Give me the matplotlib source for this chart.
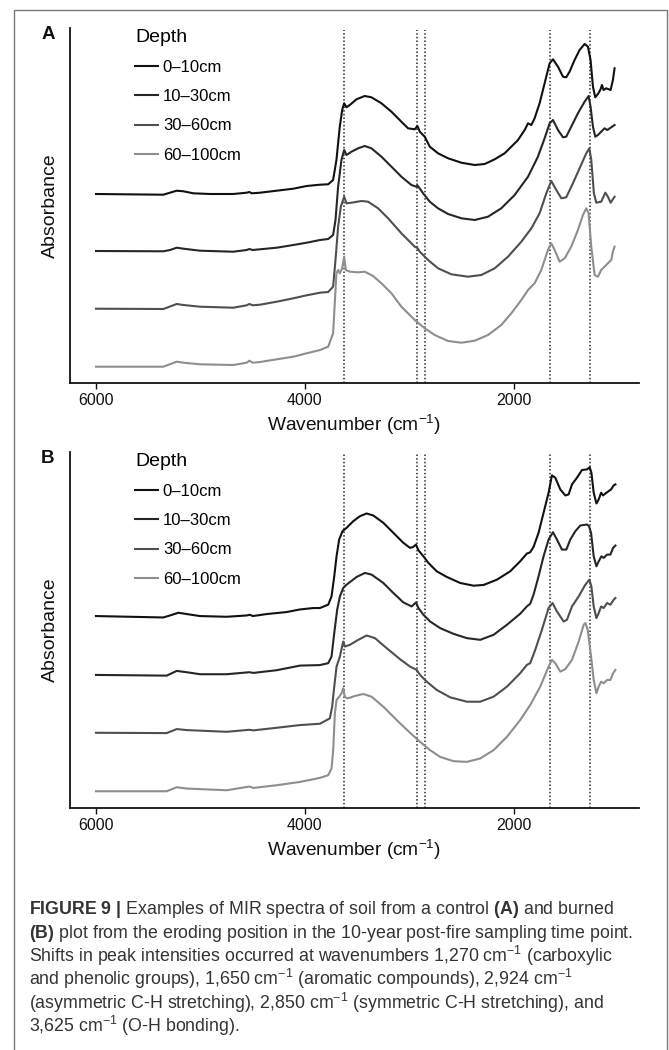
import matplotlib
matplotlib.use("Agg")
import matplotlib.pyplot as plt
from matplotlib.lines import Line2D
from matplotlib.patches import Rectangle

plt.rcParams['font.family'] = ['Liberation Sans', 'DejaVu Sans']
plt.rcParams['mathtext.fontset'] = 'custom'
plt.rcParams['mathtext.rm'] = 'Liberation Sans'
plt.rcParams['mathtext.bf'] = 'Liberation Sans:bold'
plt.rcParams['mathtext.it'] = 'Liberation Sans:italic'

# ---------------- data ----------------
depths = ['0\u201310cm', '10\u201330cm', '30\u201360cm', '60\u2013100cm']
peak_lines = [3625, 2924, 2850, 1650, 1270]
x_ticks = [6000, 4000, 2000]
x_ticklabels = ['6000', '4000', '2000']

# Panel A (control)
A_0_10_wn = [6000, 5355, 5291, 5227, 5163, 5068, 4908, 4685, 4557, 4531, 4509, 4429, 4269, 4110, 3982, 3854, 3776, 3729, 3697, 3665,
             3642, 3623, 3601, 3569, 3505, 3426, 3362, 3266, 3170, 3075, 3011, 2947, 2921, 2899, 2851, 2803, 2724, 2628, 2500, 2373,
             2277, 2181, 2086, 2022, 1958, 1894, 1862, 1830, 1799, 1751, 1703, 1655, 1623, 1575, 1527, 1496, 1464, 1416, 1368, 1320,
             1288, 1263, 1240, 1218, 1192, 1167, 1154, 1138, 1113, 1071, 1049, 1033]
A_0_10_abs = [-0.010, -0.017, 0.003, 0.023, 0.017, -0.003, -0.010, -0.010, 0.003, 0.010, -0.003, 0.003, 0.023, 0.043, 0.070, 0.083, 0.087, 0.130, 0.330, 0.663,
              0.830, 0.897, 0.857, 0.880, 0.937, 0.970, 0.957, 0.897, 0.813, 0.713, 0.647, 0.637, 0.670, 0.613, 0.563, 0.463, 0.397, 0.347, 0.303, 0.280,
              0.290, 0.337, 0.397, 0.463, 0.530, 0.630, 0.697, 0.680, 0.747, 0.897, 1.097, 1.297, 1.337, 1.263, 1.163, 1.157, 1.213, 1.330, 1.430, 1.490,
              1.463, 1.330, 1.063, 0.957, 0.990, 1.037, 1.080, 1.030, 1.047, 1.030, 1.130, 1.247]

A_10_30_wn = [6000, 5355, 5291, 5227, 5163, 5004, 4685, 4557, 4531, 4499, 4429, 4269, 4110, 3982, 3854, 3776, 3729, 3706, 3681, 3649,
              3623, 3601, 3553, 3489, 3426, 3362, 3266, 3170, 3075, 2979, 2931, 2921, 2899, 2867, 2803, 2724, 2628, 2500, 2373, 2245,
              2118, 1990, 1862, 1767, 1703, 1655, 1623, 1575, 1527, 1496, 1448, 1384, 1320, 1282, 1263, 1240, 1218, 1192, 1161, 1129,
              1103, 1065, 1033]
A_10_30_abs = [0.000, -0.003, 0.010, 0.033, 0.023, 0.003, -0.007, 0.010, 0.020, 0.010, 0.017, 0.033, 0.060, 0.083, 0.110, 0.120, 0.160, 0.310, 0.643, 0.910,
               1.010, 0.960, 0.993, 1.027, 1.050, 1.027, 0.943, 0.843, 0.743, 0.660, 0.643, 0.655, 0.625, 0.577, 0.493, 0.427, 0.370, 0.327, 0.310, 0.343,
               0.427, 0.560, 0.743, 0.943, 1.127, 1.277, 1.310, 1.210, 1.137, 1.143, 1.243, 1.377, 1.493, 1.550, 1.443, 1.243, 1.143, 1.160, 1.193, 1.227,
               1.210, 1.237, 1.260]

A_30_60_wn = [6000, 5355, 5227, 5163, 5004, 4685, 4557, 4531, 4499, 4429, 4269, 4110, 3982, 3854, 3776, 3729, 3706, 3681, 3655, 3623,
              3601, 3553, 3457, 3394, 3298, 3202, 3075, 2947, 2921, 2899, 2819, 2724, 2596, 2437, 2309, 2181, 2054, 1926, 1830, 1751,
              1687, 1639, 1591, 1543, 1496, 1432, 1368, 1304, 1275, 1256, 1231, 1208, 1161, 1122, 1097, 1071, 1033]
A_30_60_abs = [-0.002, -0.005, 0.045, 0.035, 0.018, 0.008, 0.032, 0.045, 0.032, 0.038, 0.068, 0.102, 0.132, 0.158, 0.165, 0.218, 0.485, 0.818, 1.018, 1.118,
               1.052, 1.058, 1.075, 1.068, 1.002, 0.902, 0.752, 0.618, 0.605, 0.568, 0.485, 0.402, 0.342, 0.318, 0.335, 0.402, 0.518, 0.668, 0.802, 0.952,
               1.152, 1.275, 1.185, 1.102, 1.112, 1.252, 1.402, 1.552, 1.602, 1.485, 1.152, 1.058, 1.068, 1.158, 1.118, 1.058, 1.118]

A_60_100_wn = [6000, 5355, 5227, 5163, 5004, 4685, 4557, 4531, 4499, 4429, 4269, 4110, 3982, 3854, 3776, 3729, 3713, 3697, 3681, 3665,
               3642, 3623, 3607, 3569, 3489, 3426, 3346, 3266, 3170, 3075, 2947, 2851, 2756, 2628, 2500, 2373, 2245, 2118, 2022, 1926,
               1862, 1799, 1735, 1671, 1639, 1607, 1559, 1511, 1448, 1384, 1336, 1304, 1282, 1256, 1224, 1192, 1161, 1129, 1097, 1065,
               1049, 1033]
A_60_100_abs = [-0.002, -0.002, 0.048, 0.038, 0.022, 0.015, 0.038, 0.058, 0.038, 0.045, 0.072, 0.098, 0.132, 0.165, 0.198, 0.332, 0.632, 0.932, 0.965, 0.932,
                0.982, 1.098, 0.965, 0.948, 0.942, 0.948, 0.905, 0.832, 0.732, 0.598, 0.465, 0.382, 0.315, 0.255, 0.238, 0.258, 0.315, 0.415, 0.532, 0.665,
                0.765, 0.832, 0.965, 1.165, 1.232, 1.165, 1.048, 1.082, 1.198, 1.365, 1.515, 1.582, 1.532, 1.198, 0.915, 0.898, 0.965, 0.998, 1.032, 1.065,
                1.148, 1.198]

# Panel B (burned)
B_0_10_wn = [6000, 5355, 5291, 5211, 5131, 5004, 4748, 4557, 4525, 4499, 4365, 4174, 4046, 3918, 3856, 3776, 3744, 3718, 3696, 3671,
             3639, 3600, 3536, 3472, 3408, 3344, 3248, 3152, 3056, 2992, 2960, 2935, 2912, 2864, 2816, 2736, 2640, 2512, 2384, 2288,
             2160, 2033, 1937, 1873, 1841, 1809, 1761, 1713, 1665, 1633, 1601, 1553, 1505, 1473, 1441, 1393, 1345, 1297, 1271, 1255,
             1233, 1207, 1185, 1162, 1143, 1111, 1089, 1067, 1041, 1025]
B_0_10_abs = [0.014, 0.000, 0.020, 0.047, 0.034, 0.014, 0.007, 0.020, 0.027, 0.014, 0.034, 0.054, 0.080, 0.094, 0.094, 0.127, 0.210, 0.410, 0.610, 0.777,
              0.860, 0.894, 0.960, 1.010, 1.037, 1.017, 0.944, 0.844, 0.744, 0.694, 0.704, 0.727, 0.670, 0.610, 0.544, 0.460, 0.404, 0.344, 0.317, 0.324,
              0.377, 0.460, 0.560, 0.637, 0.650, 0.704, 0.844, 1.044, 1.244, 1.417, 1.394, 1.277, 1.217, 1.227, 1.327, 1.394, 1.470, 1.477, 1.497, 1.444,
              1.244, 1.137, 1.177, 1.244, 1.217, 1.244, 1.260, 1.277, 1.317, 1.327]

B_10_30_wn = [6000, 5323, 5227, 5131, 5004, 4748, 4531, 4493, 4269, 4046, 3856, 3776, 3744, 3718, 3690, 3664, 3632, 3600, 3504, 3424,
              3360, 3248, 3152, 3056, 2976, 2935, 2912, 2864, 2800, 2704, 2576, 2448, 2320, 2192, 2064, 1937, 1873, 1841, 1809, 1761,
              1713, 1665, 1623, 1585, 1537, 1495, 1457, 1409, 1361, 1297, 1278, 1258, 1233, 1207, 1185, 1159, 1137, 1105, 1073, 1047,
              1025]
B_10_30_abs = [0.007, 0.000, 0.047, 0.034, 0.014, 0.014, 0.034, 0.027, 0.054, 0.100, 0.105, 0.124, 0.190, 0.424, 0.657, 0.790, 0.874, 0.907, 0.984, 1.024,
               1.007, 0.924, 0.824, 0.730, 0.690, 0.730, 0.674, 0.607, 0.540, 0.474, 0.417, 0.374, 0.357, 0.407, 0.507, 0.617, 0.690, 0.717, 0.807, 0.990,
               1.190, 1.357, 1.430, 1.357, 1.257, 1.257, 1.357, 1.440, 1.497, 1.507, 1.490, 1.424, 1.190, 1.090, 1.140, 1.190, 1.174, 1.207, 1.207, 1.274,
               1.297]

B_30_60_wn = [6000, 5323, 5227, 5131, 4748, 4531, 4493, 4269, 4046, 3856, 3760, 3738, 3718, 3696, 3664, 3632, 3616, 3568, 3488, 3408,
              3328, 3216, 3088, 2992, 2928, 2896, 2832, 2736, 2608, 2448, 2320, 2192, 2064, 1937, 1873, 1841, 1793, 1729, 1665, 1627,
              1585, 1521, 1489, 1441, 1377, 1313, 1274, 1255, 1233, 1207, 1185, 1162, 1137, 1105, 1073, 1041, 1025]
B_30_60_abs = [0.005, 0.002, 0.042, 0.032, 0.015, 0.035, 0.029, 0.055, 0.082, 0.095, 0.149, 0.265, 0.465, 0.665, 0.765, 0.915, 0.865, 0.882, 0.932, 0.975,
               0.949, 0.849, 0.739, 0.665, 0.632, 0.582, 0.515, 0.432, 0.359, 0.315, 0.315, 0.365, 0.465, 0.599, 0.682, 0.699, 0.832, 1.032, 1.249, 1.299,
               1.215, 1.115, 1.132, 1.265, 1.365, 1.482, 1.532, 1.465, 1.265, 1.149, 1.199, 1.265, 1.249, 1.299, 1.282, 1.332, 1.349]

B_60_100_wn = [6000, 5323, 5227, 5131, 4748, 4531, 4493, 4269, 4046, 3856, 3776, 3744, 3728, 3712, 3696, 3671, 3648, 3632, 3616, 3584,
               3520, 3440, 3360, 3248, 3120, 2992, 2896, 2800, 2704, 2576, 2448, 2320, 2192, 2064, 1937, 1841, 1745, 1665, 1633, 1601,
               1553, 1505, 1441, 1377, 1329, 1313, 1290, 1258, 1233, 1207, 1185, 1162, 1137, 1105, 1073, 1047, 1025]
B_60_100_abs = [0.002, 0.002, 0.042, 0.029, 0.012, 0.049, 0.035, 0.062, 0.095, 0.135, 0.162, 0.229, 0.412, 0.779, 0.912, 0.945, 0.979, 1.029, 0.939, 0.929,
                0.952, 0.972, 0.945, 0.845, 0.712, 0.585, 0.495, 0.412, 0.345, 0.302, 0.295, 0.329, 0.412, 0.545, 0.712, 0.862, 1.045, 1.245, 1.312, 1.279,
                1.195, 1.219, 1.312, 1.495, 1.662, 1.679, 1.612, 1.345, 1.112, 0.979, 1.045, 1.095, 1.079, 1.112, 1.112, 1.179, 1.212]

caption_lines = [
    r"$\mathbf{FIGURE\ 9\ |}$ Examples of MIR spectra of soil from a control $\mathbf{(A)}$ and burned",
    r"$\mathbf{(B)}$ plot from the eroding position in the 10-year post-fire sampling time point.",
    r"Shifts in peak intensities occurred at wavenumbers 1,270 cm$^{-1}$ (carboxylic",
    r"and phenolic groups), 1,650 cm$^{-1}$ (aromatic compounds), 2,924 cm$^{-1}$",
    r"(asymmetric C-H stretching), 2,850 cm$^{-1}$ (symmetric C-H stretching), and",
    r"3,625 cm$^{-1}$ (O-H bonding).",
]

# ---------------- style ----------------
W, H = 669, 1050
colors = ['#111111', '#262626', '#4f4f4f', '#8e8e8e']
offsets = [1.90, 1.32, 0.745, 0.165]


def fy(py):
    return 1 - py / H


fig = plt.figure(figsize=(W / 100, H / 100), dpi=100)
fig.patches.append(Rectangle((14 / W, -0.05), (667 - 14) / W, fy(9.5) + 0.05,
                             transform=fig.transFigure, fill=False,
                             edgecolor='#7a7a7a', lw=1.0))

panels = [
    ('A', 28, 383, [(A_0_10_wn, A_0_10_abs), (A_10_30_wn, A_10_30_abs),
                    (A_30_60_wn, A_30_60_abs), (A_60_100_wn, A_60_100_abs)]),
    ('B', 452, 808, [(B_0_10_wn, B_0_10_abs), (B_10_30_wn, B_10_30_abs),
                     (B_30_60_wn, B_30_60_abs), (B_60_100_wn, B_60_100_abs)]),
]

for label, top, bot, series in panels:
    ax = fig.add_axes([70 / W, fy(bot), 569 / W, (bot - top) / H])
    ax.set_xlim(6249, 799)
    ax.set_ylim(0, 3.55)
    for wl in peak_lines:
        ax.axvline(wl, ymin=0, ymax=0.995, color='#3a3a3a', lw=1.2,
                   ls=(0, (0.9, 1.3)), zorder=1)
    for i, (wn, ab) in enumerate(series):
        ax.plot(wn, [a + offsets[i] for a in ab], color=colors[i], lw=1.5,
                solid_joinstyle='round', zorder=3)
    for s in ['top', 'right']:
        ax.spines[s].set_visible(False)
    for s in ['left', 'bottom']:
        ax.spines[s].set_linewidth(1.3)
        ax.spines[s].set_color('#111111')
    ax.set_xticks(x_ticks)
    ax.set_xticklabels(x_ticklabels)
    ax.set_yticks([])
    ax.tick_params(axis='x', length=4.5, width=1.0, pad=2.5, labelsize=11.5,
                   colors='#111111')
    handles = [Line2D([], [], color=c, lw=1.5) for c in colors]
    ax.legend(handles, depths, title='Depth', loc='upper left',
              bbox_to_anchor=(135 / W, fy(top + 0.5)),
              bbox_transform=fig.transFigure, frameon=False, fontsize=12,
              title_fontsize=14, handlelength=1.35, handletextpad=0.32,
              labelspacing=0.86, borderpad=0, borderaxespad=0,
              alignment='left')
    fig.text(48 / W, fy(top + 6.5), label, fontsize=13.5, weight='bold',
             ha='center', va='center', color='#111111')
    fig.text(50 / W, fy((top + bot) / 2), 'Absorbance', rotation=90,
             fontsize=14, ha='center', va='center', color='#111111')
    fig.text(354.5 / W, fy(bot + 42), r'Wavenumber (cm$^{-1}$)', fontsize=13.8,
             ha='center', va='center', color='#111111')

baselines = [914, 938, 961.5, 985, 1009, 1032.5]
for txt, yb in zip(caption_lines, baselines):
    fig.text(29 / W, fy(yb), txt, fontsize=12.8, ha='left', va='baseline',
             color='#333333')

fig.savefig('out.png', dpi=100)
